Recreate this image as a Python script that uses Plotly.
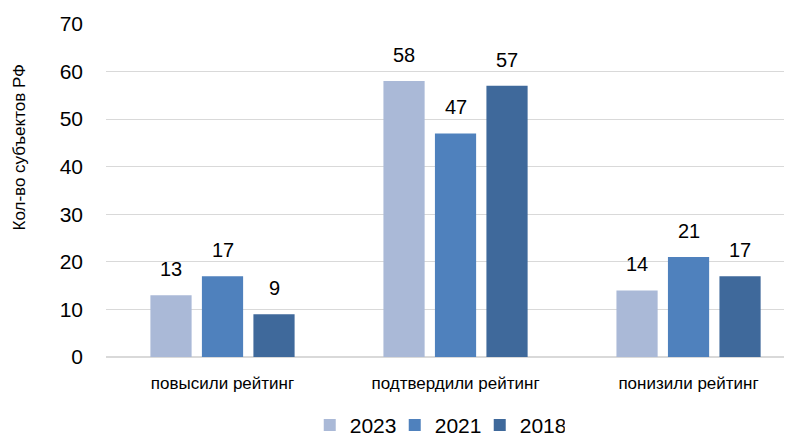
import plotly.graph_objects as go

categories = ["повысили рейтинг", "подтвердили рейтинг", "понизили рейтинг"]
series_names = ["2023", "2021", "2018"]
values_2023 = [13, 58, 14]
values_2021 = [17, 47, 21]
values_2018 = [9, 57, 17]
colors = ["#AAB9D7", "#4F81BD", "#3F699B"]
y_title = "Кол-во субъектов РФ"

BARGAP = 0.337
BARGROUPGAP = 0.2
all_series = [values_2023, values_2021, values_2018]

fig = go.Figure()
for name, vals, col in zip(series_names, all_series, colors):
    fig.add_trace(go.Bar(
        x=categories, y=vals, name=name, marker_color=col, marker_line_width=0,
    ))

# data labels placed at each bar's centre in data coordinates
n = len(all_series)
slot = (1 - BARGAP) / n
annotations = []
for k, vals in enumerate(all_series):
    for i, v in enumerate(vals):
        annotations.append(dict(
            x=i + (k - (n - 1) / 2) * slot, y=v, xref="x", yref="y",
            text=str(v), showarrow=False, yanchor="bottom", yshift=13,
            font=dict(size=20, color="#000000"),
        ))
annotations.append(dict(
    x=-0.1254, y=0.632, xref="paper", yref="paper", text=y_title, showarrow=False,
    textangle=-90, xanchor="center", yanchor="middle", font=dict(size=17, color="#000000"),
))

# the page body adds an 8px margin, so the figure is sized to the remaining viewport
fig.update_layout(
    width=784, height=433,
    margin=dict(l=98, r=0, t=16, b=84, pad=0, autoexpand=False),
    paper_bgcolor="white", plot_bgcolor="white",
    barmode="group", bargap=BARGAP, bargroupgap=BARGROUPGAP,
    font=dict(family="Liberation Sans, Arial, sans-serif", color="#000000"),
    showlegend=True,
    legend=dict(orientation="h", x=0.297, xanchor="left", y=-0.205, yanchor="middle",
                font=dict(size=21), itemwidth=30, entrywidth=40, traceorder="normal"),
    annotations=annotations,
)
fig.update_yaxes(range=[0, 70], dtick=10, showgrid=True, gridcolor="#D9D9D9", gridwidth=1,
                 zeroline=True, zerolinecolor="#D9D9D9", tickfont=dict(size=21),
                 ticks="", ticklabelstandoff=22, automargin=False)
fig.update_xaxes(showline=False, tickfont=dict(size=17), ticks="", ticklabelstandoff=14,
                 automargin=False, range=[-0.5, 2.444])

fig.write_html("out.html")
